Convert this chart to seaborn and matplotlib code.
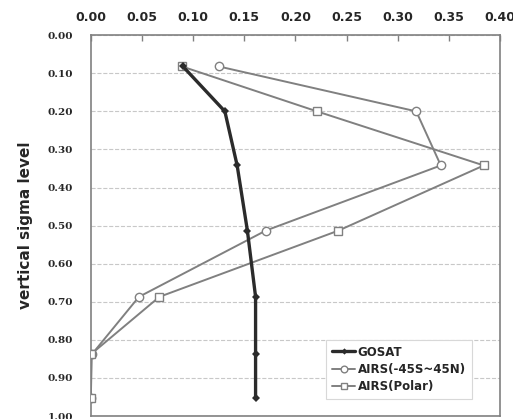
import matplotlib
matplotlib.use("Agg")
import matplotlib.pyplot as plt
import seaborn as sns
import numpy as np

# значения по вертикали (sigma level)
sigma = [0.082, 0.20, 0.342, 0.513, 0.687, 0.838, 0.953]

gosat = [0.090, 0.131, 0.143, 0.153, 0.161, 0.161, 0.161]
airs_mid = [0.125, 0.318, 0.342, 0.171, 0.047, 0.001, 0.0]
airs_polar = [0.089, 0.221, 0.384, 0.242, 0.067, 0.0, 0.0]

x_ticks = np.arange(0, 0.41, 0.05)
y_ticks = np.arange(0, 1.01, 0.1)

sns.set_style("white")
fig = plt.figure(figsize=(5.13, 4.19), dpi=100)
ax = fig.add_axes([0.177, 0.007, 0.798, 0.909])

sns.lineplot(x=airs_mid, y=sigma, sort=False, estimator=None, ax=ax,
             color="#808080", linewidth=1.4, marker="o", markersize=6,
             markerfacecolor="white", markeredgecolor="#808080",
             markeredgewidth=1.0, label="AIRS(-45S~45N)", zorder=3)
sns.lineplot(x=airs_polar, y=sigma, sort=False, estimator=None, ax=ax,
             color="#808080", linewidth=1.4, marker="s", markersize=6,
             markerfacecolor="white", markeredgecolor="#808080",
             markeredgewidth=1.0, label="AIRS(Polar)", zorder=4)
sns.lineplot(x=gosat, y=sigma, sort=False, estimator=None, ax=ax,
             color="#2b2b2b", linewidth=2.4, marker="D", markersize=4,
             markeredgewidth=0, label="GOSAT", zorder=5)

ax.set_xlim(0, 0.40)
ax.set_ylim(1.0, 0.0)
ax.set_xticks(x_ticks)
ax.set_xticklabels([f"{v:.2f}" for v in x_ticks], fontsize=9, fontweight="bold")
ax.set_yticks(y_ticks)
ax.set_yticklabels([f"{v:.2f}" for v in y_ticks], fontsize=7.5,
                   fontweight="bold", family="DejaVu Serif")
ax.xaxis.tick_top()
ax.tick_params(axis="x", direction="in", length=4, width=1, color="#808080",
               pad=8, top=True)
ax.tick_params(axis="y", length=0, pad=13)
ax.set_xlabel("")
ax.set_ylabel("vertical sigma level", fontsize=11, fontweight="bold", labelpad=10)

ax.grid(axis="y", linestyle="--", color="#c8c8c8", linewidth=0.8)
ax.grid(axis="x", visible=False)
for s in ax.spines.values():
    s.set_color("#808080")
    s.set_linewidth(1.2)

handles, labels = ax.get_legend_handles_labels()
order = [2, 0, 1]
leg = ax.legend([handles[i] for i in order], [labels[i] for i in order],
                loc="lower right", bbox_to_anchor=(0.945, 0.03),
                prop={"weight": "bold", "size": 8.5}, handlelength=2.0,
                handletextpad=0.2, borderpad=0.5, labelspacing=0.35,
                markerscale=0.8, fancybox=False, edgecolor="#d8d8d8",
                framealpha=1)
leg.get_frame().set_linewidth(0.8)

fig.savefig("out.png", dpi=100)
